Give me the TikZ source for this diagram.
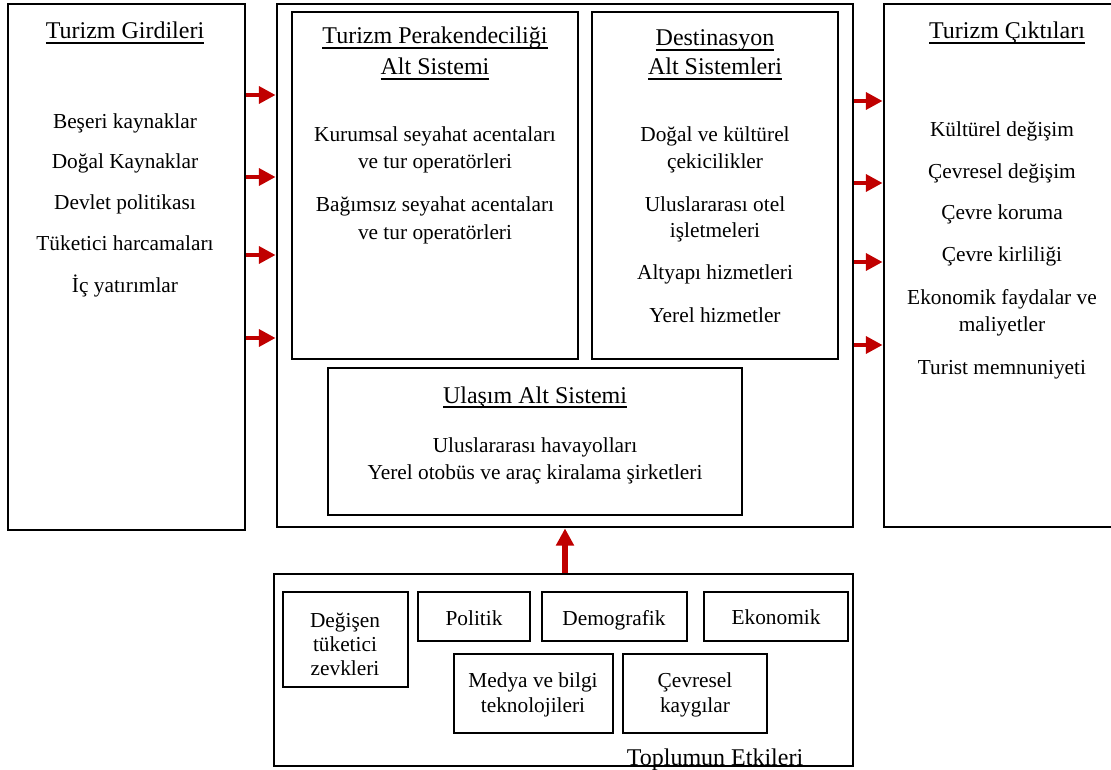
\documentclass[tikz,border=0pt]{standalone}
\usepackage{fontspec}
\setmainfont{Liberation Serif}
\usetikzlibrary{fit,arrows.meta}
\definecolor{flowred}{HTML}{C00000}
% underline at a fixed depth below the baseline
\newcommand\ulin[1]{\setbox0\hbox{#1}\rlap{\vrule height -2.3pt depth 3.4pt width \wd0}\box0}
\tikzset{
  frame/.style={draw=black, line width=2.1pt, inner sep=0pt},
  txt/.style={anchor=base, inner sep=0pt, yshift=-1.5pt, font=\fontsize{16}{19}\selectfont},
  ttl/.style={anchor=base, inner sep=0pt, yshift=-1.5pt, font=\fontsize{18}{21}\selectfont},
  flow/.style={draw=flowred, line width=3.6pt, -{Triangle[length=12.5pt,width=12.5pt]}},
  upflow/.style={draw=flowred, line width=4.6pt, -{Triangle[length=13pt,width=13pt]}}
}
\begin{document}
\begin{tikzpicture}[x=0.75pt, y=-0.75pt]
\useasboundingbox (0,0) rectangle (1111,770);

% main frames
\node[frame, fit={(8,4) (245,530)}] (inp) {};
\node[frame, fit={(277,4) (853,527)}] (sys) {};
\node[frame, fit={(884,4) (1120,527)}] (out) {};
\node[frame, fit={(292,12) (578,359)}] (ret) {};
\node[frame, fit={(592,12) (838,359)}] (dst) {};
\node[frame, fit={(328,368) (742,515)}] (trn) {};
\node[frame, fit={(274,574) (853,766)}] (soc) {};

% society factor boxes
\node[frame, fit={(283,592) (408,687)}] (f1) {};
\node[frame, fit={(418,592) (530,641)}] (f2) {};
\node[frame, fit={(542,592) (687,641)}] (f3) {};
\node[frame, fit={(704,592) (848,641)}] (f4) {};
\node[frame, fit={(454,654) (613,733)}] (f5) {};
\node[frame, fit={(623,654) (767,733)}] (f6) {};

% inputs
\node[ttl] (inpT) at (125,37) {\ulin{Turizm Girdileri}};
\node[txt] (i1) at (125,127) {Beşeri kaynaklar};
\node[txt] (i2) at (125,167) {Doğal Kaynaklar};
\node[txt] (i3) at (125,208) {Devlet politikası};
\node[txt] (i4) at (125,249) {Tüketici harcamaları};
\node[txt] (i5) at (125,290) {İç yatırımlar};

% retail subsystem
\node[ttl] (retT1) at (435,42) {\ulin{Turizm Perakendeciliği}};
\node[ttl] (retT2) at (435,73) {\ulin{Alt Sistemi}};
\node[txt] (r1) at (435,140) {Kurumsal seyahat acentaları};
\node[txt] (r2) at (435,167) {ve tur operatörleri};
\node[txt] (r3) at (435,210) {Bağımsız seyahat acentaları};
\node[txt] (r4) at (435,237) {ve tur operatörleri};

% destination subsystem
\node[ttl] (dstT1) at (715,44) {\ulin{Destinasyon}};
\node[ttl] (dstT2) at (715,73) {\ulin{Alt Sistemleri}};
\node[txt] (d1) at (715,140) {Doğal ve kültürel};
\node[txt] (d2) at (715,167) {çekicilikler};
\node[txt] (d3) at (715,210) {Uluslararası otel};
\node[txt] (d4) at (715,236) {işletmeleri};
\node[txt] (d5) at (715,278) {Altyapı hizmetleri};
\node[txt] (d6) at (715,320) {Yerel hizmetler};

% transport subsystem
\node[ttl] (trnT) at (535,401) {\ulin{Ulaşım Alt Sistemi}};
\node[txt] (t1) at (535,450) {Uluslararası havayolları};
\node[txt] (t2) at (535,477) {Yerel otobüs ve araç kiralama şirketleri};

% outputs
\node[ttl] (outT) at (1007,37) {\ulin{Turizm Çıktıları}};
\node[txt] (o1) at (1002,135) {Kültürel değişim};
\node[txt] (o2) at (1002,177) {Çevresel değişim};
\node[txt] (o3) at (1002,218) {Çevre koruma};
\node[txt] (o4) at (1002,260) {Çevre kirliliği};
\node[txt] (o5) at (1002,303) {Ekonomik faydalar ve};
\node[txt] (o6) at (1002,329) {maliyetler};
\node[txt] (o7) at (1002,372) {Turist memnuniyeti};

% society factors
\node[txt] (s1a) at (345,625) {Değişen};
\node[txt] (s1b) at (345,649) {tüketici};
\node[txt] (s1c) at (345,673) {zevkleri};
\node[txt] (s2) at (474,623) {Politik};
\node[txt] (s3) at (614,623) {Demografik};
\node[txt] (s4) at (776,622) {Ekonomik};
\node[txt] (s5a) at (533,685) {Medya ve bilgi};
\node[txt] (s5b) at (533,710) {teknolojileri};
\node[txt] (s6a) at (695,685) {Çevresel};
\node[txt] (s6b) at (695,710) {kaygılar};
\node[ttl] (socT) at (715,763) {Toplumun Etkileri};

% flows into the system
\foreach \yy in {95,177,255,338}
  \draw[flow] (inp.east |- 0,\yy) -- (sys.west |- 0,\yy);
% flows out of the system
\foreach \yy in {101,183,262,345}
  \draw[flow] (sys.east |- 0,\yy) -- (out.west |- 0,\yy);
% society acting on the system
\draw[upflow] (soc.north -| 565,0) -- (sys.south -| 565,0);
\end{tikzpicture}
\end{document}
